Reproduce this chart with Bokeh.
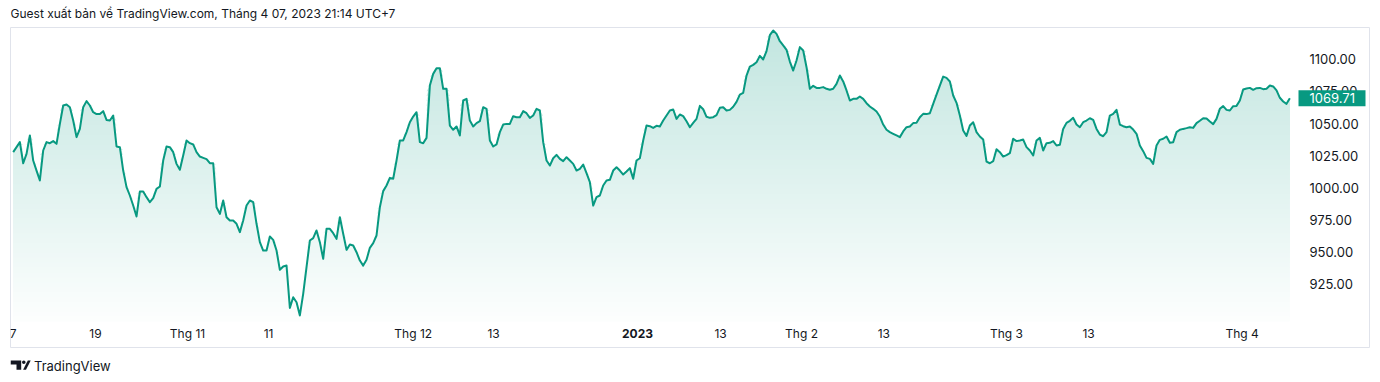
import numpy as np
from bokeh.plotting import figure
from bokeh.layouts import column
from bokeh.models import Range1d
from bokeh.core.properties import value
from bokeh.embed import file_html
from bokeh.resources import INLINE

# ---- data (3 samples per ~trading day) ----
close_oct_nov = [
    1027.7, 1031.6, 1035.5, 1019.1, 1026.4, 1040.7, 1021.2, 1013.4, 1005.7, 1029.0,
    1035.5, 1034.7, 1036.3, 1034.2, 1049.7, 1064.0, 1064.8, 1062.7, 1052.3, 1039.4,
    1045.8, 1062.7, 1067.4, 1064.0, 1058.8, 1057.3, 1057.3, 1059.6, 1052.8, 1052.3,
    1056.2, 1032.1, 1031.6, 1013.4, 1000.5, 994.0, 986.2, 977.7, 997.1, 997.1,
    992.7, 988.8, 991.9, 999.2, 1001.0, 1021.2, 1032.1, 1031.6, 1027.7, 1018.6,
    1014.0, 1025.1, 1036.8, 1034.7, 1033.7, 1027.7, 1024.3, 1023.3, 1022.3, 1019.1,
    1019.1, 984.9, 979.7, 990.1, 977.1, 974.5, 974.5, 972.0, 965.5, 974.5,
    986.2, 990.1, 988.8, 972.0, 957.7, 951.2, 951.2, 962.1, 959.5, 951.2,
    936.2, 938.8, 939.5, 906.6, 914.9, 911.0, 900.7, 917.5, 938.3, 959.0,
    960.8, 966.8, 957.7, 944.7, 968.1, 968.1, 964.7, 960.3, 977.1, 964.2,
    951.7, 955.9,
]
close_nov_dec = [
    955.1, 949.9, 943.4, 939.5, 944.0, 953.3, 956.9, 962.9, 984.9, 997.4,
    1001.8, 1007.7, 1007.0, 1021.2, 1036.8, 1036.8, 1043.3, 1051.0, 1055.4, 1058.8,
    1035.5, 1034.7, 1038.8, 1079.5, 1088.6, 1093.0, 1093.0, 1077.0, 1077.0, 1048.4,
    1045.1, 1047.7, 1040.7, 1067.9, 1069.2, 1052.3, 1047.7, 1050.3, 1051.8, 1062.7,
    1061.4, 1036.8, 1032.1, 1033.7, 1043.3, 1049.2, 1049.7, 1049.7, 1055.7, 1054.9,
    1054.9, 1059.6, 1058.0, 1054.4, 1056.2, 1061.4, 1060.1, 1035.5, 1021.2, 1017.3,
    1023.0, 1025.6, 1022.5, 1020.7, 1023.8, 1021.2, 1018.6, 1013.4, 1014.7, 1018.1,
    1011.4, 1004.4, 986.2, 992.7, 994.0, 1001.8, 1005.7, 1006.2, 1013.4, 1016.0,
    1013.4, 1010.3, 1012.7, 1015.3, 1007.0, 1021.2, 1023.0, 1036.8, 1048.4, 1047.9,
    1046.6, 1048.2, 1047.7, 1052.3, 1056.2, 1060.1, 1060.9, 1053.6, 1057.0,
]
close_jan_feb = [
    1055.7, 1051.8, 1047.1, 1050.5, 1053.6, 1063.7, 1061.1, 1055.2, 1054.4, 1054.9,
    1056.5, 1062.2, 1062.7, 1060.1, 1060.6, 1063.0, 1066.8, 1072.5, 1073.8, 1087.3,
    1094.3, 1095.6, 1097.7, 1102.6, 1099.8, 1106.3, 1118.7, 1122.3, 1119.7, 1114.0,
    1110.7, 1107.3, 1098.2, 1091.2, 1099.0, 1109.4, 1106.8, 1093.8, 1077.0, 1079.3,
    1077.7, 1077.7, 1078.3, 1077.0, 1076.2, 1077.0, 1080.8, 1087.3, 1082.7, 1075.7,
    1067.9, 1069.2, 1069.2, 1071.0, 1069.2, 1065.8, 1063.2, 1061.4, 1059.3, 1055.4,
    1049.2, 1045.1, 1043.3, 1042.0, 1040.7, 1039.4, 1043.8, 1047.1, 1047.7, 1050.3,
    1050.5, 1054.9, 1057.5, 1057.3, 1058.0, 1065.3, 1072.5, 1079.5, 1086.5, 1085.5,
    1082.7, 1071.8, 1066.1, 1056.2, 1044.5, 1040.4, 1048.4, 1051.0, 1043.3, 1039.9,
]
close_mar_apr = [
    1037.5, 1020.4, 1019.1, 1020.7, 1030.0, 1027.7, 1024.3, 1025.4, 1026.9, 1038.1,
    1036.3, 1036.8, 1037.5, 1031.6, 1029.0, 1025.1, 1036.8, 1038.8, 1029.0, 1034.7,
    1035.0, 1036.3, 1032.9, 1033.4, 1045.8, 1050.5, 1052.1, 1054.4, 1049.2, 1047.1,
    1051.0, 1052.3, 1054.1, 1052.8, 1045.8, 1041.4, 1040.1, 1043.3, 1056.2, 1057.5,
    1060.6, 1049.2, 1047.9, 1047.1, 1047.7, 1045.3, 1042.0, 1032.9, 1028.5, 1023.3,
    1022.5, 1018.6, 1032.9, 1037.3, 1038.1, 1039.9, 1035.0, 1035.5, 1043.3, 1045.1,
    1045.8, 1046.4, 1047.1, 1046.6, 1050.3, 1052.1, 1054.1, 1053.9, 1051.5, 1049.5,
    1053.6, 1061.4, 1063.5, 1060.6, 1060.1, 1063.5, 1063.7, 1067.9, 1076.4, 1077.2,
    1077.7, 1076.2, 1077.5, 1077.7, 1076.7, 1077.0, 1079.5, 1078.8, 1075.7, 1070.0,
    1067.1, 1065.3, 1069.71,
]
last_price = 1069.71

tick_pos = [0, 24.7, 52.3, 76.6, 120, 144.1, 187.3, 212.2, 236.5, 261.2, 298, 322.6, 368.7]
tick_labels = ["7", "19", "Thg 11", "11", "Thg 12", "13", "2023", "13", "Thg 2", "13",
               "Thg 3", "13", "Thg 4"]
tick_bold = [False, False, False, False, False, False, True, False, False, False,
             False, False, False]
price_ticks = [925, 950, 975, 1000, 1025, 1050, 1075, 1100]

header = "Guest xuất bản về TradingView.com, Tháng 4 07, 2023 21:14 UTC+7"
brand = "TradingView"

# ---- styling / layout constants ----
FONT = value("Inter")
TXT = "#131722"
GREEN = "#089981"
BORDER = "#e0e3eb"
W = 1380
PX_PER_IDX = 3.3333      # horizontal pixels per sample
PX_PER_UNIT = 1.2857     # vertical pixels per index point
FRAME_L, FRAME_R = 10, 1369      # bordered chart box (page px)
FRAME_T, FRAME_B = 27, 347
PANE_B = 321                     # bottom of the price pane
LINE_X0 = 12.7                   # page x of the first sample
Y_TOP = 1124.67                  # value at the top of the box

vals = np.array(close_oct_nov + close_nov_dec + close_jan_feb + close_mar_apr)
idx = np.arange(len(vals))


def px_to_idx(px):
    return (px - LINE_X0) / PX_PER_IDX


def py_to_val(py):
    return Y_TOP - (py - FRAME_T) / PX_PER_UNIT


def strip(height):
    f = figure(width=W, height=height, x_range=Range1d(FRAME_L, FRAME_R),
               y_range=Range1d(height, 0),
               x_axis_location=None, y_axis_location=None,
               min_border_left=FRAME_L, min_border_right=W - FRAME_R,
               min_border_top=0, min_border_bottom=0,
               output_backend="svg", toolbar_location=None)
    f.outline_line_color = None
    f.grid.visible = False
    return f


# ---------- header strip ----------
HDR_H = FRAME_T - 1
hdr = strip(HDR_H)
hdr.text(x=[10], y=[12.5], text=[header], text_font=FONT, text_font_size="12px",
         text_color=TXT, text_baseline="middle", text_align="left")

# ---------- main chart ----------
MAIN_H = FRAME_B + 1 - HDR_H
p = figure(width=W, height=MAIN_H,
           x_range=Range1d(px_to_idx(FRAME_L), px_to_idx(FRAME_R)),
           y_range=Range1d(py_to_val(FRAME_B), py_to_val(FRAME_T)),
           x_axis_location=None, y_axis_location=None,
           min_border_left=FRAME_L, min_border_right=W - FRAME_R,
           min_border_top=1, min_border_bottom=1,
           output_backend="svg", toolbar_location=None)
p.outline_line_color = BORDER
p.outline_line_width = 1
p.grid.visible = False
p.background_fill_color = "white"
p.border_fill_color = "white"

# gradient area (stacked bands, each painted from its floor up to the line)
y_lo, y_hi = py_to_val(PANE_B), Y_TOP
N = 60
a_top, a_bot = 0.25, 0.01
for k in range(N):
    b = y_lo + k * (y_hi - y_lo) / N
    frac = (k + 0.5) / N
    a = a_bot + frac * (a_top - a_bot)
    r = int(round(255 - a * (255 - 8)))
    g = int(round(255 - a * (255 - 153)))
    bb = int(round(255 - a * (255 - 129)))
    p.varea(x=idx, y1=b, y2=np.maximum(vals, b), color="#%02x%02x%02x" % (r, g, bb))

p.line(idx, vals, line_color=GREEN, line_width=2, line_join="round")

# time scale labels
lab_y = py_to_val(333)
norm = [i for i, bld in enumerate(tick_bold) if not bld]
bold = [i for i, bld in enumerate(tick_bold) if bld]
p.text(x=[tick_pos[i] for i in norm], y=[lab_y] * len(norm), text=[tick_labels[i] for i in norm],
       text_font=FONT, text_font_size="12px", text_color=TXT,
       text_align="center", text_baseline="middle")
p.text(x=[tick_pos[i] for i in bold], y=[lab_y] * len(bold), text=[tick_labels[i] for i in bold],
       text_font=FONT, text_font_size="12px", text_font_style="bold", text_color=TXT,
       text_align="center", text_baseline="middle")

# price scale labels
scale_x = px_to_idx(1309)
p.text(x=[scale_x] * len(price_ticks), y=price_ticks, text=["%.2f" % t for t in price_ticks],
       text_font=FONT, text_font_size="13px", text_color=TXT,
       text_align="left", text_baseline="middle")

# last price tag
p.rect(x=[px_to_idx(1331.5)], y=[last_price], width=67, height=16,
       width_units="screen", height_units="screen", fill_color=GREEN, line_color=None)
p.text(x=[scale_x], y=[last_price], text=["%.2f" % last_price], text_font=FONT,
       text_font_size="13px", text_color="white", text_align="left", text_baseline="middle")

# ---------- footer strip ----------
FT_H = 380 - (FRAME_B + 1)
ft = strip(FT_H)
LOGO = "#131722"
ft.patch([10, 20.7, 20.7, 16, 16, 10], [12, 12, 21.3, 21.3, 16, 16],
         fill_color=LOGO, line_color=None)
ft.ellipse(x=[23.3], y=[13.8], width=3.6, height=3.6, fill_color=LOGO, line_color=None)
ft.patch([22.6, 27.3, 30.2, 25.5], [21.3, 12, 12, 21.3], fill_color=LOGO, line_color=None)
ft.text(x=[33.5], y=[17], text=[brand], text_font=FONT, text_font_size="13px",
        text_color=TXT, text_baseline="middle", text_align="left")

layout = column(hdr, p, ft, spacing=0)
open("out.html", "w").write(file_html(layout, INLINE))
